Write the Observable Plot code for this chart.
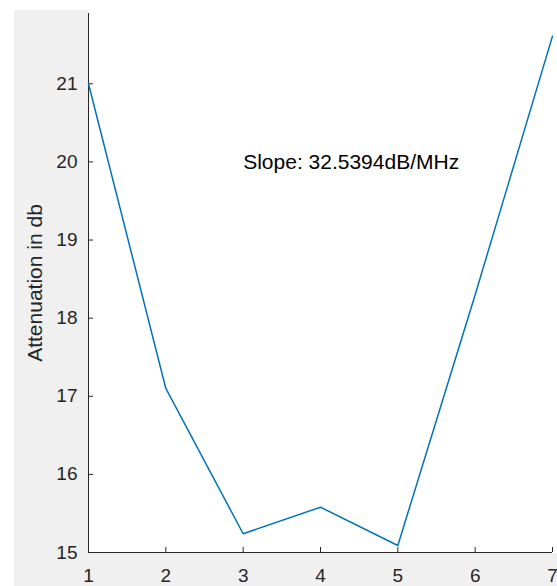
<!DOCTYPE html>
<html>
<head>
<meta charset="utf-8">
<script src="https://cdn.jsdelivr.net/npm/d3@7"></script>
<script src="https://cdn.jsdelivr.net/npm/@observablehq/plot@0.6"></script>
<style>
  html, body { margin: 0; padding: 0; background: #ffffff; width: 557px; height: 586px; overflow: hidden; }
  .bg { position: absolute; background: #f0f0f0; }
  #chart { position: absolute; left: 0; top: 0; }
  #chart svg { background: transparent; }
  g[aria-label="y-axis label"] text { font-size: 21px; }
</style>
</head>
<body>
<div class="bg" style="left:14px; top:10px; width:74px; bottom:0;"></div>
<div class="bg" style="left:14px; top:553px; right:0; bottom:0;"></div>
<div id="chart"></div>
<script>
const xValues = [1, 2, 3, 4, 5, 6, 7];
const attenuation = [21.0, 17.1, 15.24, 15.58, 15.09, 18.3, 21.61];
const xTicks = [1, 2, 3, 4, 5, 6, 7];
const yTicks = [15, 16, 17, 18, 19, 20, 21];
const yLabel = "Attenuation in db";
const annotationX = [3];
const annotationY = [20];
const annotationText = ["Slope: 32.5394dB/MHz"];

const data = xValues.map((x, i) => ({x, y: attenuation[i]}));
const notes = annotationX.map((x, i) => ({x, y: annotationY[i], text: annotationText[i]}));

const axisColor = "#262626";

const chart = Plot.plot({
  width: 557,
  height: 586,
  marginLeft: 88,
  marginRight: 5,
  marginTop: 13,
  marginBottom: 34,
  style: {fontFamily: "'Liberation Sans', Arial, sans-serif", color: axisColor, background: "transparent"},
  x: {domain: [1, 7]},
  y: {domain: [15, 21.9]},
  marks: [
    Plot.axisX({ticks: xTicks, tickFormat: d => String(d), tickSize: -5, tickPadding: 21, fontSize: 19, label: null, stroke: axisColor, fill: axisColor}),
    Plot.axisY({ticks: yTicks, tickFormat: d => String(d), tickSize: -5, tickPadding: 16, fontSize: 19, label: yLabel, labelAnchor: "center", labelOffset: 61, labelArrow: "none", stroke: axisColor, fill: axisColor}),
    Plot.ruleX([1], {stroke: axisColor, strokeWidth: 1}),
    Plot.ruleY([15], {stroke: axisColor, strokeWidth: 1}),
    Plot.line(data, {x: "x", y: "y", stroke: "#0072BD", strokeWidth: 1.5}),
    Plot.text(notes, {x: "x", y: "y", text: "text", textAnchor: "start", fontSize: 21, fill: "#000000"})
  ]
});
document.getElementById("chart").appendChild(chart);
</script>
</body>
</html>
